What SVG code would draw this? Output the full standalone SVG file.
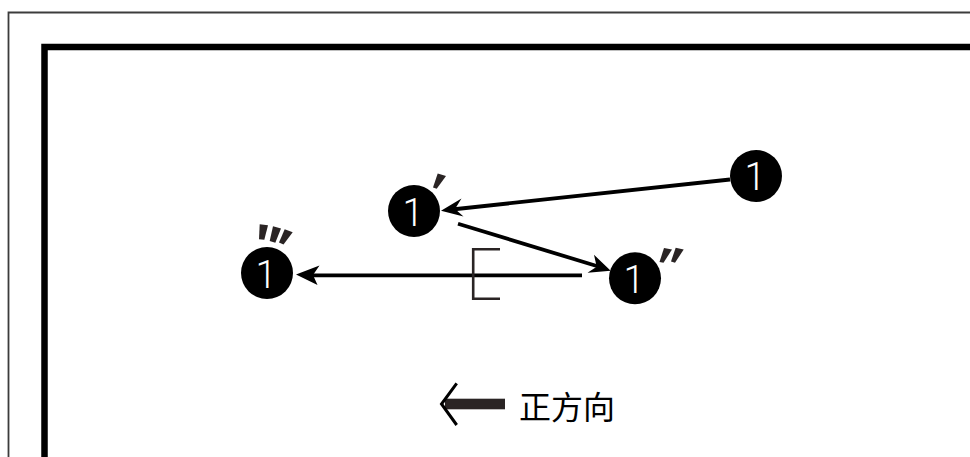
<svg xmlns="http://www.w3.org/2000/svg" width="970" height="457" viewBox="0 0 970 457">
<style>
.frame{fill:none;stroke-linecap:butt}
.num{font-family:Roboto,"Liberation Sans",sans-serif;font-size:38px;font-weight:300;fill:#fff;text-anchor:middle}
.dot{fill:#000}
.prime{fill:#2a2424}
.conn{stroke:#000;stroke-width:3.8;fill:none}
.head{fill:#000}
.lab{font-family:"Noto Sans CJK SC","Noto Sans",sans-serif;font-size:32px;fill:#000}
</style>
<rect width="970" height="457" fill="#fff"/>
<path class="frame" d="M8.500 457V12.500H970" stroke="#3c3c3c" stroke-width="1.800"/>
<path class="frame" d="M44.500 457V47H970" stroke="#000" stroke-width="6.500"/>
<g id="connectors">
<path class="conn" d="M730 179.500L452 209.500"/>
<polygon class="head" points="441,210.700 461.500,198.500 455,209 463.500,216.500"/>
<path class="conn" d="M458 223.700L600 267"/>
<polygon class="head" points="610.700,270.700 594,254.700 596.700,266.700 587.500,272.800"/>
<path class="conn" d="M582 275.300H308"/>
<polygon class="head" points="296,274.500 319.500,265.500 313,275 317.500,285"/>
<path d="M500 249.300H473.200V298.700H500" fill="none" stroke="#2a2424" stroke-width="2.600"/>
</g>
<g id="node-1">
<circle class="dot" cx="756" cy="176" r="26"/>
<text class="num" x="755" y="190">1</text>
</g>
<g id="node-1-prime">
<circle class="dot" cx="414" cy="211" r="26"/>
<text class="num" x="413" y="226">1</text>
<polygon class="prime" points="437.700,173.500 446,176 436.700,188.800 433,187.500"/>
</g>
<g id="node-1-double-prime">
<circle class="dot" cx="635" cy="278.300" r="26"/>
<text class="num" x="634" y="293">1</text>
<polygon class="prime" points="664,248 672,249.500 663.500,262.800 659.500,262"/>
<polygon class="prime" points="675.700,247.700 683.700,249.500 675,262.800 671,261.500"/>
</g>
<g id="node-1-triple-prime">
<circle class="dot" cx="267" cy="273" r="26"/>
<text class="num" x="266" y="288">1</text>
<polygon class="prime" points="259.700,224.300 268,225.300 264.300,239.800 259,239.300"/>
<polygon class="prime" points="273,226.300 281,228.500 275.300,242.800 269.700,241"/>
<polygon class="prime" points="284.700,229.300 292.700,232.300 283.500,244.500 279,242.500"/>
</g>
<g id="direction">
<rect x="445" y="398.700" width="60" height="10.600" fill="#2a2424"/>
<path d="M456.700 383.300L441.500 404L456.700 425" fill="none" stroke="#000" stroke-width="3"/>
<text class="lab" x="519" y="419">正方向</text>
</g>
</svg>
